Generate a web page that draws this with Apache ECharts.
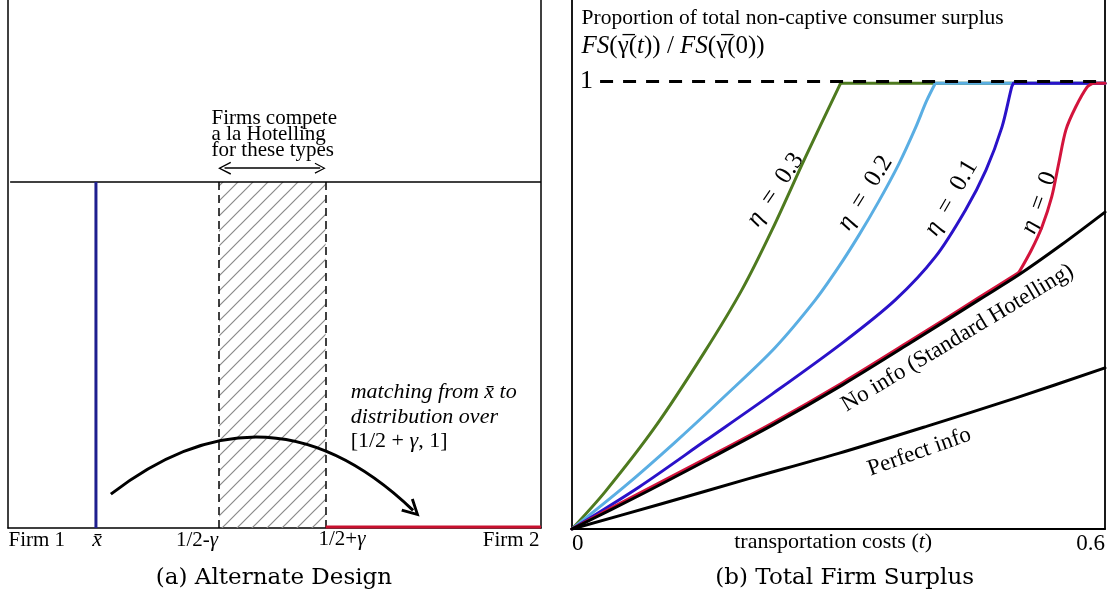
<!DOCTYPE html>
<html><head><meta charset="utf-8">
<script src="https://cdn.jsdelivr.net/npm/echarts@6/dist/echarts.min.js"></script>
<style>html,body{margin:0;padding:0;background:#fff;}#c{width:1111px;height:597px;}</style>
</head><body><div id="c"></div>
<script>
// ================= DATA =================
// Panel (a): positions on the unit interval of types
const xBar = 0.165;                    // x̄
const bandLow = 0.396;                 // 1/2 - γ
const bandHigh = 0.596;                // 1/2 + γ
const typeLineLevel = 1;               // horizontal line height
const firm2Segment = [0.596, 1];       // red segment on [1/2+γ, 1]
const matchArrowFrom = [0.193, 0.098];
const matchArrowTo = [0.760, 0.051];   // centre of the arrow head
const competeArrowY = 1.04;
const competeArrowInset = 0.0103;      // half arrow-head length, in axis units

// Panel (b): firm surplus curves (t, FS ratio)
const tGreen = [0, 0.0372, 0.0936, 0.150, 0.1917, 0.2256, 0.2628, 0.3023, 0.6];
const vGreen = [0, 0.083, 0.228, 0.398, 0.536, 0.670, 0.831, 0.996, 0.996];
const tLightBlue = [0, 0.0586, 0.115, 0.171, 0.228, 0.274, 0.300, 0.3225, 0.345, 0.368, 0.387, 0.399, 0.409, 0.6];
const vLightBlue = [0, 0.094, 0.192, 0.295, 0.404, 0.512, 0.585, 0.655, 0.731, 0.816, 0.898, 0.956, 0.996, 0.996];
const tBlue = [0, 0.0756, 0.150, 0.2256, 0.3045, 0.364, 0.409, 0.443, 0.466, 0.484, 0.495, 0.497, 0.6];
const vBlue = [0, 0.094, 0.197, 0.302, 0.416, 0.512, 0.608, 0.713, 0.802, 0.898, 0.988, 0.996, 0.996];
const tRed = [0, 0.0767, 0.150, 0.2256, 0.3045, 0.3812, 0.458, 0.503, 0.517, 0.529, 0.540, 0.548, 0.556, 0.567, 0.580, 0.586, 0.6];
const vRed = [0, 0.081, 0.157, 0.237, 0.327, 0.421, 0.517, 0.573, 0.623, 0.675, 0.742, 0.818, 0.892, 0.943, 0.988, 0.996, 0.996];
const tNoInfo = [0, 0.0767, 0.150, 0.2256, 0.3045, 0.3812, 0.458, 0.503, 0.551, 0.6];
const vNoInfo = [0, 0.076, 0.152, 0.232, 0.322, 0.416, 0.512, 0.568, 0.635, 0.708];
const tPerfect = [0, 0.1, 0.2, 0.3, 0.4, 0.5, 0.6];
const vPerfect = [0, 0.056, 0.113, 0.169, 0.230, 0.293, 0.360];
const unityLevel = 1;
const unityStart = 0.0316;
const xTicks = [0, 0.6];

// ================= HELPERS =================
const serif = "'Liberation Serif','Times New Roman',serif";
const capFont = "'DejaVu Serif','Liberation Serif',serif";
const zip = (a, b) => a.map((v, i) => [v, b[i]]);
const chevronBold = 'path://M0,20 L10,0 L20,20 L17,21.5 L10,7 L3,21.5 Z';
const chevronThin = 'path://M0,20 L10,0 L20,20 L18,21 L10,4.5 L2,21 Z';

function txt(x, y, text, o) {
  o = o || {};
  const fs = o.fontSize || 20;
  const lh = o.lineHeight;
  const ff = o.fontFamily || serif;
  const rich = {
    i: { fontStyle: 'italic', fontFamily: serif, fontSize: fs, color: '#000', lineHeight: lh },
    n: { fontFamily: serif, fontSize: fs, color: '#000', lineHeight: lh }
  };
  return {
    value: [x, y],
    label: Object.assign({
      show: true, formatter: text, color: '#000', fontFamily: ff, fontSize: fs,
      position: 'inside', distance: 0, rich: rich, lineHeight: lh, opacity: 1
    }, o)
  };
}

// split a curve into smooth pieces at sharp kinks (indices), straight for flat tail
function curveSeries(t, v, color, breaks) {
  const pts = zip(t, v);
  const flatIdx = v.findIndex(x => x >= 0.996);
  const cuts = [0].concat(breaks || []).concat(flatIdx > 0 ? [flatIdx] : [pts.length - 1]);
  const out = [];
  for (let k = 0; k < cuts.length - 1; k++) {
    out.push({ type: 'line', xAxisIndex: 1, yAxisIndex: 2, silent: true, symbol: 'none', smooth: 0.3,
      lineStyle: { color: color, width: 3, cap: 'round', join: 'round' }, data: pts.slice(cuts[k], cuts[k + 1] + 1) });
  }
  if (flatIdx > 0) {
    out.push({ type: 'line', xAxisIndex: 1, yAxisIndex: 2, silent: true, symbol: 'none', smooth: false,
      lineStyle: { color: color, width: 3, cap: 'round', join: 'round' }, data: pts.slice(flatIdx) });
  }
  return out;
}

// hatch pattern
const hatch = document.createElement('canvas');
hatch.width = 15; hatch.height = 15;
(function () {
  const g = hatch.getContext('2d');
  g.strokeStyle = '#8a8a8a'; g.lineWidth = 1.2;
  g.beginPath();
  g.moveTo(0, 15); g.lineTo(15, 0);
  g.moveTo(-2, 2); g.lineTo(2, -2);
  g.moveTo(13, 17); g.lineTo(17, 13);
  g.stroke();
})();

const axLine = (w) => ({ show: true, onZero: false, lineStyle: { color: '#000', width: w } });
const noAx = { axisTick: { show: false }, splitLine: { show: false } };
const labelSeriesBase = { type: 'scatter', silent: true, clip: false, symbolSize: 1,
  itemStyle: { color: 'transparent', opacity: 1 } };

const chart = echarts.init(document.getElementById('c'), null, { renderer: 'canvas' });

const option = {
  animation: false,
  backgroundColor: '#fff',
  grid: [
    { left: 8, right: 570, top: 0, bottom: 69 },
    { left: 572, right: 6, top: 0, bottom: 68 }
  ],
  xAxis: [
    Object.assign({ gridIndex: 0, type: 'value', min: 0, max: 1, axisLine: axLine(1.5), axisLabel: { show: false } }, noAx),
    Object.assign({ gridIndex: 1, type: 'value', min: xTicks[0], max: xTicks[1], interval: xTicks[1] - xTicks[0],
      axisLine: axLine(1.8),
      axisLabel: { show: true, color: '#000', fontFamily: serif, fontSize: 23, margin: 3,
        alignMinLabel: 'left', alignMaxLabel: 'right', formatter: v => String(v) } }, noAx)
  ],
  yAxis: [
    Object.assign({ gridIndex: 0, type: 'value', min: 0, max: 1.526, position: 'left', axisLine: axLine(1.5), axisLabel: { show: false } }, noAx),
    Object.assign({ gridIndex: 0, type: 'value', min: 0, max: 1.526, position: 'right', axisLine: axLine(1.5), axisLabel: { show: false } }, noAx),
    Object.assign({ gridIndex: 1, type: 'value', min: 0, max: 1.1821, interval: 0.5, position: 'left', axisLine: axLine(1.8),
      axisLabel: { show: true, inside: true, margin: 8, color: '#000', fontFamily: serif, fontSize: 26,
        formatter: v => (Math.abs(v - 1) < 1e-6 ? '1' : '') } }, noAx),
    Object.assign({ gridIndex: 1, type: 'value', min: 0, max: 1.1821, position: 'right', axisLine: axLine(1.8), axisLabel: { show: false } }, noAx)
  ],
  series: [
    // ---------- panel (a) ----------
    {
      type: 'custom', xAxisIndex: 0, yAxisIndex: 0, silent: true, clip: false,
      renderItem: function (params, api) {
        const p0 = api.coord([api.value(0), api.value(3)]);
        const p1 = api.coord([api.value(1), api.value(2)]);
        return { type: 'rect', shape: { x: p0[0], y: p0[1], width: p1[0] - p0[0], height: p1[1] - p0[1] },
          style: { fill: { image: hatch, repeat: 'repeat' }, stroke: null } };
      },
      data: [[bandLow, bandHigh, 0, typeLineLevel]]
    },
    {
      type: 'lines', coordinateSystem: 'cartesian2d', xAxisIndex: 0, yAxisIndex: 0, silent: true,
      lineStyle: { color: '#000', width: 1.5, type: [8, 5], opacity: 1 },
      data: [{ coords: [[bandLow, 0], [bandLow, typeLineLevel]] }, { coords: [[bandHigh, 0], [bandHigh, typeLineLevel]] }]
    },
    {
      type: 'line', xAxisIndex: 0, yAxisIndex: 0, silent: true, symbol: 'none',
      lineStyle: { color: '#000', width: 1.5 }, data: [[0.004, typeLineLevel], [1, typeLineLevel]]
    },
    {
      type: 'line', xAxisIndex: 0, yAxisIndex: 0, silent: true, symbol: 'none',
      lineStyle: { color: '#1f1f8f', width: 3 }, data: [[xBar, 0], [xBar, typeLineLevel]]
    },
    {
      type: 'line', xAxisIndex: 0, yAxisIndex: 0, silent: true, symbol: 'none',
      lineStyle: { color: '#c8102e', width: 3 }, data: [[firm2Segment[0], 0.003], [firm2Segment[1], 0.003]]
    },
    {
      type: 'lines', coordinateSystem: 'cartesian2d', xAxisIndex: 0, yAxisIndex: 0, silent: true,
      symbol: ['none', chevronBold], symbolSize: [24, 18],
      lineStyle: { color: '#000', width: 3, curveness: 0.43, opacity: 1 },
      data: [{ coords: [matchArrowFrom, matchArrowTo] }]
    },
    {
      type: 'lines', coordinateSystem: 'cartesian2d', xAxisIndex: 0, yAxisIndex: 0, silent: true,
      symbol: [chevronThin, chevronThin], symbolSize: [13, 11],
      lineStyle: { color: '#000', width: 1.5, opacity: 1 },
      data: [{ coords: [[bandLow + competeArrowInset, competeArrowY], [bandHigh - competeArrowInset, competeArrowY]] }]
    },
    Object.assign({}, labelSeriesBase, {
      xAxisIndex: 0, yAxisIndex: 0,
      data: [
        txt(0.381, 1.136, 'Firms compete\na la Hotelling\nfor these types', { fontSize: 21, lineHeight: 16, position: 'right', align: 'left' }),
        txt(0.642, 0.321, '{i|matching from x\u0304 to}\n{i|distribution over}\n{n|[1/2 + }{i|γ}{n|, 1]}', { fontSize: 22, lineHeight: 24.5, position: 'right', align: 'left' }),
        txt(0, -0.0347, 'Firm 1', { fontSize: 21, position: 'right' }),
        txt(0.167, -0.0347, '{i|x\u0304}', { fontSize: 22 }),
        txt(0.3546, -0.0347, '1/2-{i|γ}', { fontSize: 21 }),
        txt(0.6266, -0.0318, '1/2+{i|γ}', { fontSize: 21 }),
        txt(0.998, -0.0347, 'Firm 2', { fontSize: 21, position: 'left' }),
        txt(0.499, -0.1445, '(a) Alternate Design', { fontSize: 23, fontFamily: capFont })
      ]
    }),
    // ---------- panel (b) ----------
    ...curveSeries(tGreen, vGreen, '#4e7a1f'),
    ...curveSeries(tLightBlue, vLightBlue, '#5aaee3'),
    ...curveSeries(tBlue, vBlue, '#2a12c9'),
    ...curveSeries(tRed, vRed, '#d3143c', [7]),
    ...curveSeries(tNoInfo, vNoInfo, '#000'),
    ...curveSeries(tPerfect, vPerfect, '#000'),
    { type: 'line', xAxisIndex: 1, yAxisIndex: 2, silent: true, symbol: 'none',
      lineStyle: { color: '#000', width: 3, type: [13, 10] }, data: [[unityStart, unityLevel], [xTicks[1], unityLevel]] },
    Object.assign({}, labelSeriesBase, {
      xAxisIndex: 1, yAxisIndex: 2,
      data: [
        txt(0.0102, 1.142, 'Proportion of total non-captive consumer surplus', { fontSize: 21.5, position: 'right' }),
        txt(0.0102, 1.079, '{i|FS}(\u03B3\u0305({i|t})) / {i|FS}(\u03B3\u0305(0))', { fontSize: 25, position: 'right' }),
        txt(0.229, 0.758, '{i|η}\u2002=\u20020.3', { fontSize: 25, rotate: 56 }),
        txt(0.330, 0.751, '{i|η}\u2002=\u20020.2', { fontSize: 25, rotate: 58 }),
        txt(0.427, 0.740, '{i|η}\u2002=\u20020.1', { fontSize: 25, rotate: 60 }),
        txt(0.526, 0.729, '{i|η}\u2002=\u20020', { fontSize: 25, rotate: 70 }),
        txt(0.434, 0.427, 'No info (Standard Hotelling)', { fontSize: 23, rotate: 31 }),
        txt(0.391, 0.172, 'Perfect info', { fontSize: 23, rotate: 19.5 }),
        txt(0.294, -0.029, 'transportation costs ({i|t})', { fontSize: 22 }),
        txt(0.307, -0.1095, '(b) Total Firm Surplus', { fontSize: 23, fontFamily: capFont })
      ]
    })
  ]
};
chart.setOption(option);
</script></body></html>
